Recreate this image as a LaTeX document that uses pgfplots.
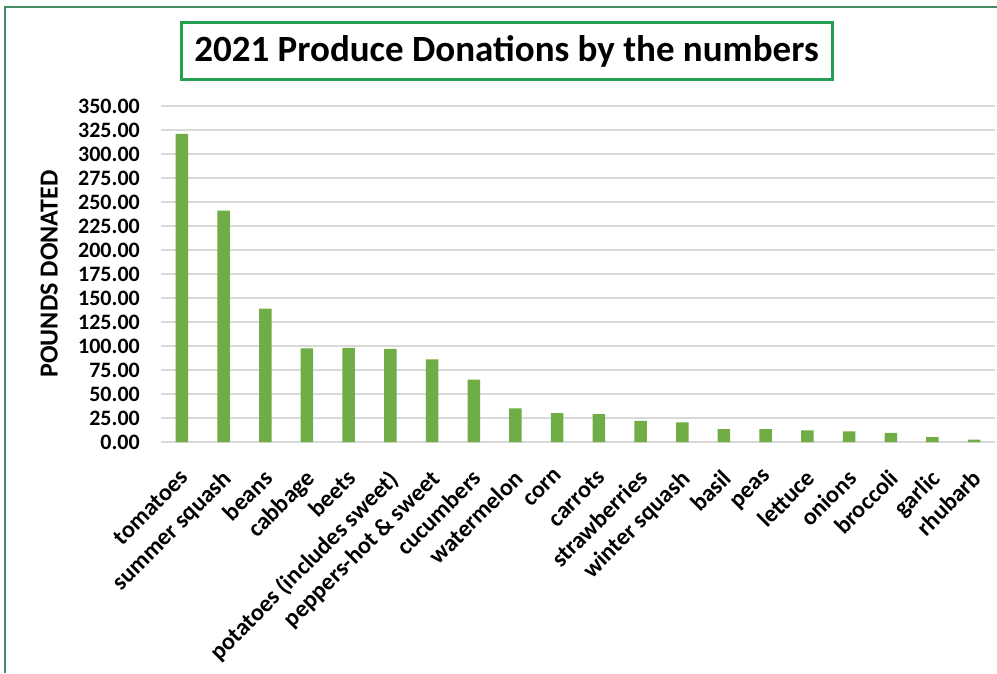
\documentclass[border=0pt]{standalone}
\usepackage{pgfplots}
\pgfplotsset{compat=1.18}
\usepackage{fontspec}
\setmainfont{Carlito}
\definecolor{barc}{RGB}{112,173,71}
\definecolor{gridc}{RGB}{217,217,217}
\definecolor{titlegreen}{RGB}{34,160,80}
\definecolor{borderc}{RGB}{70,140,100}
\begin{document}
\begin{tikzpicture}[x=1pt,y=1pt]
\useasboundingbox (0,0) rectangle (997,673);
\begin{axis}[
  at={(161pt,231pt)}, anchor=south west,
  scale only axis, width=834pt, height=336pt,
  ybar, bar width=12.5pt,
  xmin=-0.5, xmax=19.5, ymin=0, ymax=350,
  enlargelimits=false,
  xtick={0,...,19},
  xticklabels={tomatoes,summer squash,beans,cabbage,beets,potatoes (includes sweet),peppers-hot \& sweet,cucumbers,watermelon,corn,carrots,strawberries,winter squash,basil,peas,lettuce,onions,broccoli,garlic,rhubarb},
  ytick={0,25,...,350},
  /pgf/number format/.cd, fixed, fixed zerofill, precision=2, 1000 sep={}, assume math mode=true,
  /pgfplots/.cd,
  axis line style={draw=none},
  major tick length=0pt,
  ymajorgrids,
  major grid style={draw=gridc, line width=2pt},
  yticklabel style={font=\fontsize{22}{26}\selectfont\bfseries, inner sep=0pt, anchor=east, xshift=-21pt},
  xticklabel style={font=\fontsize{24}{28}\selectfont\bfseries, inner sep=0pt, xshift=-3pt, yshift=-26pt, rotate=45, anchor=north east},
  ylabel={POUNDS DONATED},
  ylabel style={font=\fontsize{26}{30}\selectfont\bfseries, at={(axis description cs:-0.134,0.5)}, anchor=center},
]
\addplot[fill=barc, draw=none] coordinates {
(0,321) (1,241) (2,139) (3,97.5) (4,98) (5,97) (6,86) (7,65) (8,35) (9,30)
(10,29) (11,22) (12,20.5) (13,13.5) (14,13.5) (15,12) (16,11) (17,9.5) (18,5) (19,2.5)
};
\end{axis}
\draw[borderc, line width=2.5pt] (5,0) -- (5,666) -- (997,666);
\node[draw=titlegreen, line width=3pt, minimum width=651pt, minimum height=57pt, inner sep=0pt,
  font=\fontsize{37}{40}\selectfont\bfseries] at (506.5,621.5) {2021 Produce Donations by the numbers};
\end{tikzpicture}
\end{document}
